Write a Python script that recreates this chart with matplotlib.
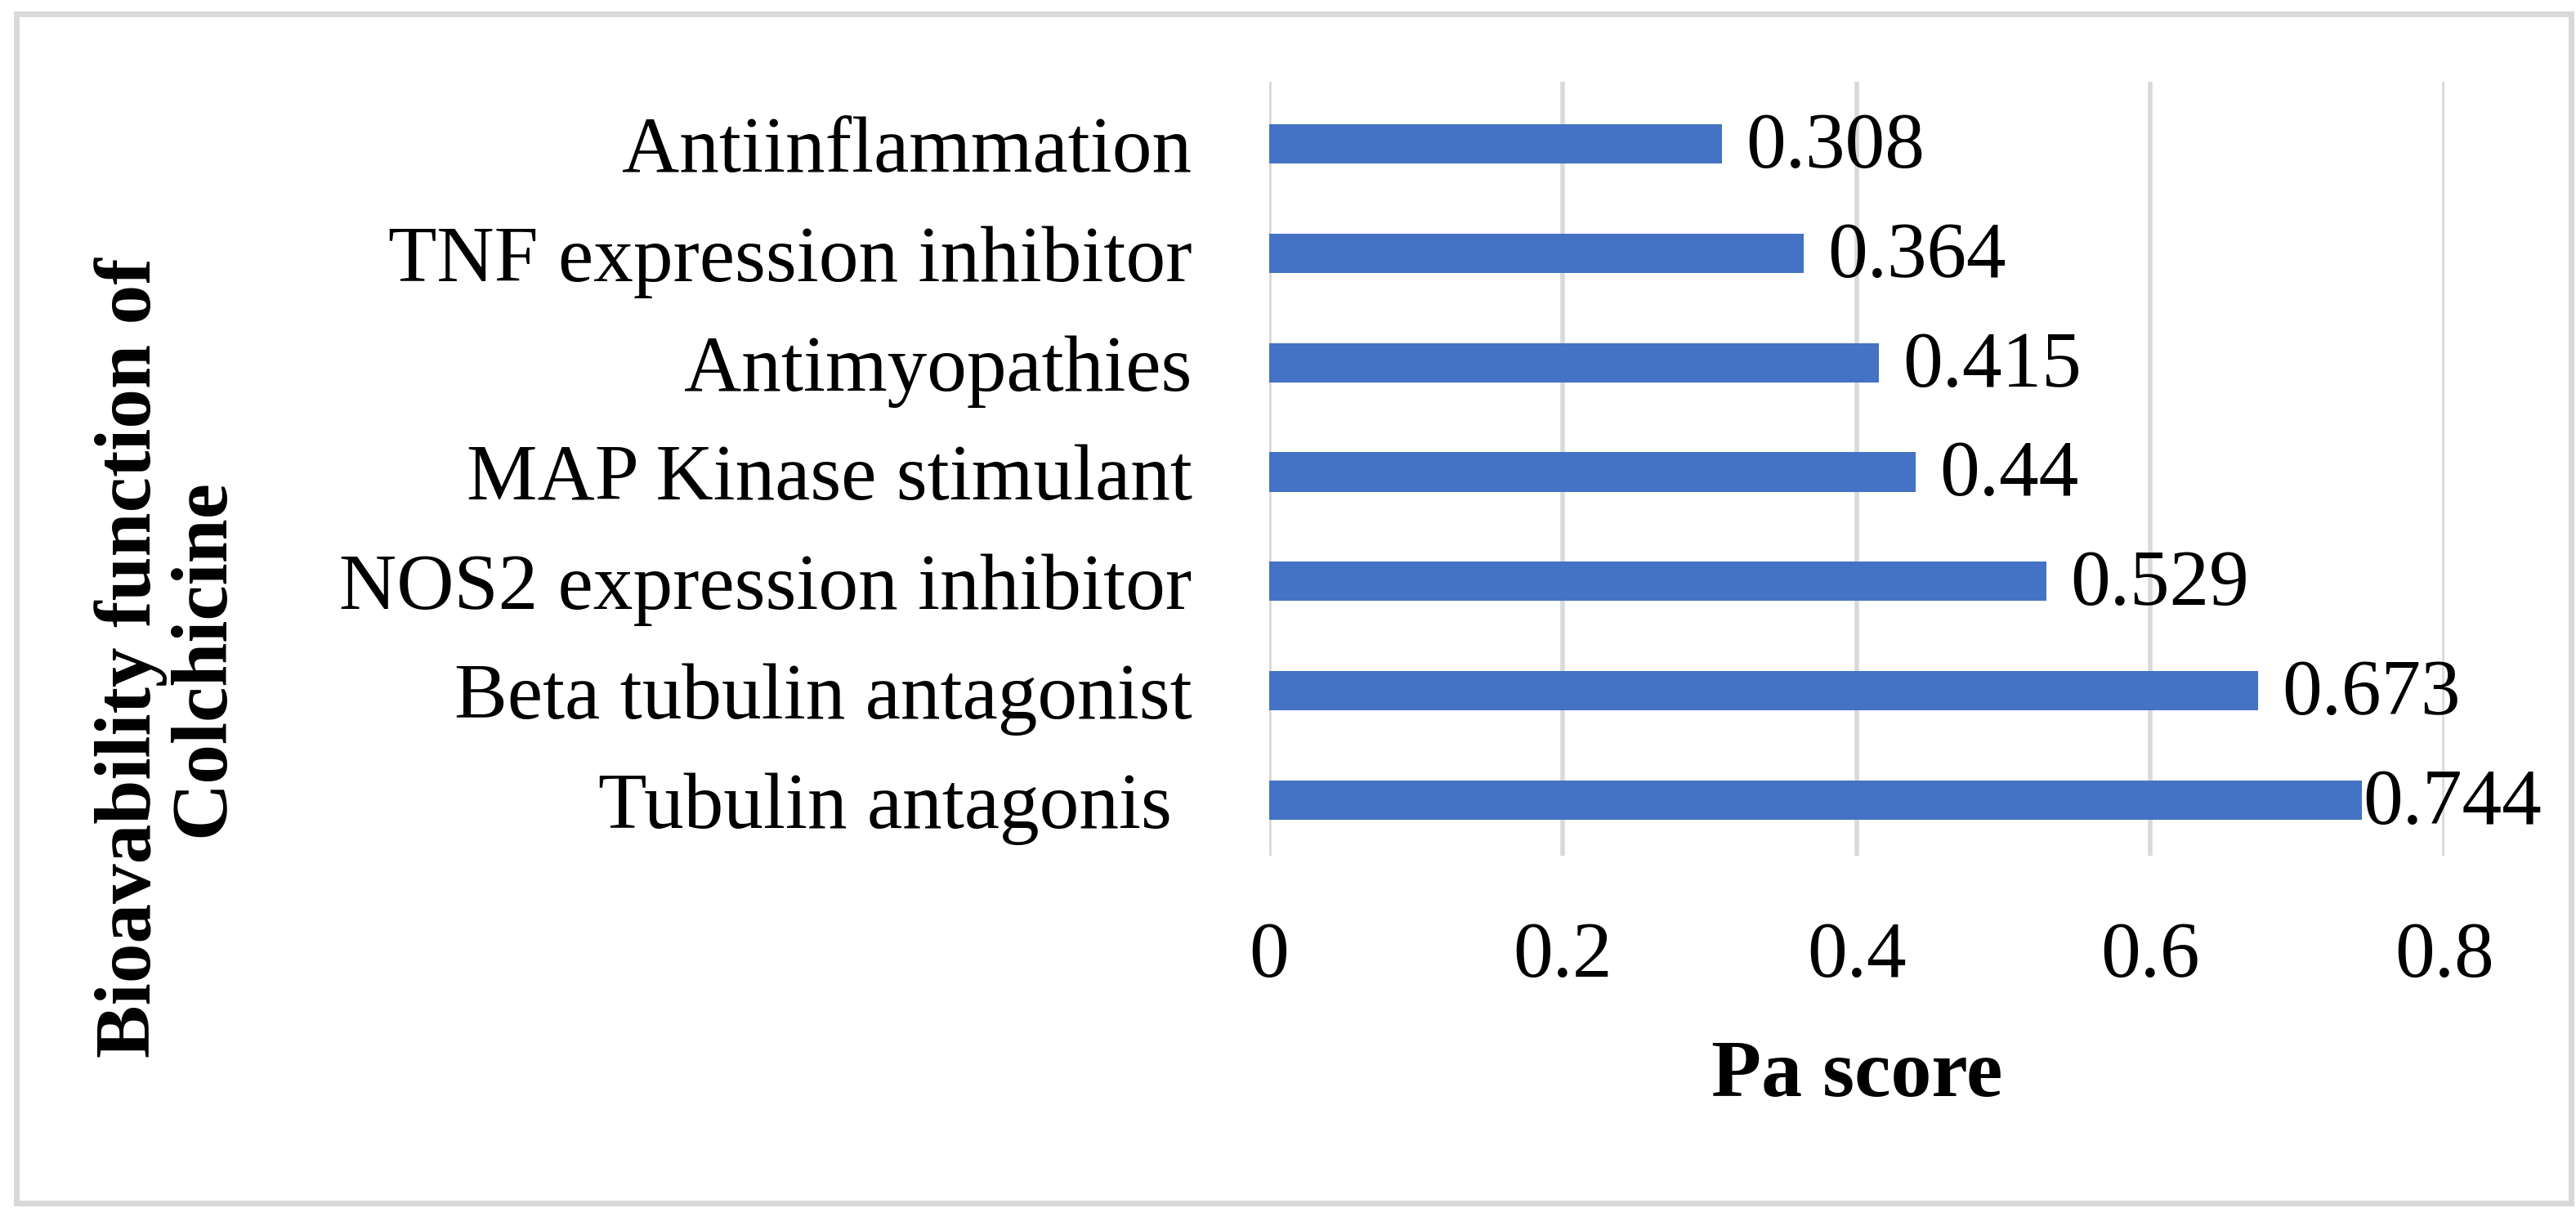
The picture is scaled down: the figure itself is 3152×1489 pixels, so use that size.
import matplotlib
matplotlib.use("Agg")
import matplotlib.pyplot as plt
from matplotlib.patches import Rectangle

# data, bottom to top
functions = ["Tubulin antagonis ", "Beta tubulin antagonist", "NOS2 expression inhibitor",
             "MAP Kinase stimulant", "Antimyopathies", "TNF expression inhibitor",
             "Antiinflammation"]
pa_scores = [0.744, 0.673, 0.529, 0.44, 0.415, 0.364, 0.308]
value_labels = ["0.744", "0.673", "0.529", "0.44", "0.415", "0.364", "0.308"]
x_ticks = [0, 0.2, 0.4, 0.6, 0.8]
x_tick_labels = ["0", "0.2", "0.4", "0.6", "0.8"]

plt.rcParams['font.family'] = ['Liberation Serif', 'DejaVu Serif']

fig = plt.figure(figsize=(31.52, 14.89), dpi=100)
ax = fig.add_axes([0.4927, 0.2968, 0.4562, 0.636])

pos = list(range(len(functions)))
ax.barh(pos, pa_scores, height=0.36, color="#4472C4", zorder=3)

for i, (v, lab) in enumerate(zip(pa_scores, value_labels)):
    pad = 1 if v > 0.72 else 21
    ax.annotate(lab, xy=(v, i), xytext=(pad, -4), textcoords="offset points",
                ha="left", va="center", fontsize=70, zorder=4)

ax.set_xlim(0, 0.8)
ax.set_ylim(-0.51, 6.57)
ax.set_yticks(pos)
ax.set_yticklabels(functions, fontsize=70)
ax.set_xticks(x_ticks)
ax.set_xticklabels(x_tick_labels, fontsize=70)
ax.tick_params(axis="y", length=0, pad=68)
ax.tick_params(axis="x", length=0, pad=58)
ax.grid(axis="x", color="#d9d9d9", linewidth=4, zorder=0)
for s in ax.spines.values():
    s.set_visible(False)

ax.set_xlabel("Pa score", fontsize=72, fontweight="bold", labelpad=40)

fig.text(205 / 3152, 1 - 805 / 1489, "Bioavability function of\nColchicine",
         rotation=90, ha="center", va="center", fontsize=70, fontweight="bold",
         linespacing=1.0)

fig.patches.append(Rectangle((20 / 3152, 1 - 1472 / 1489), 3126 / 3152, 1455 / 1489,
                             transform=fig.transFigure, fill=False,
                             edgecolor="#d9d9d9", linewidth=5))

fig.savefig("out.png", dpi=100, facecolor="white")
